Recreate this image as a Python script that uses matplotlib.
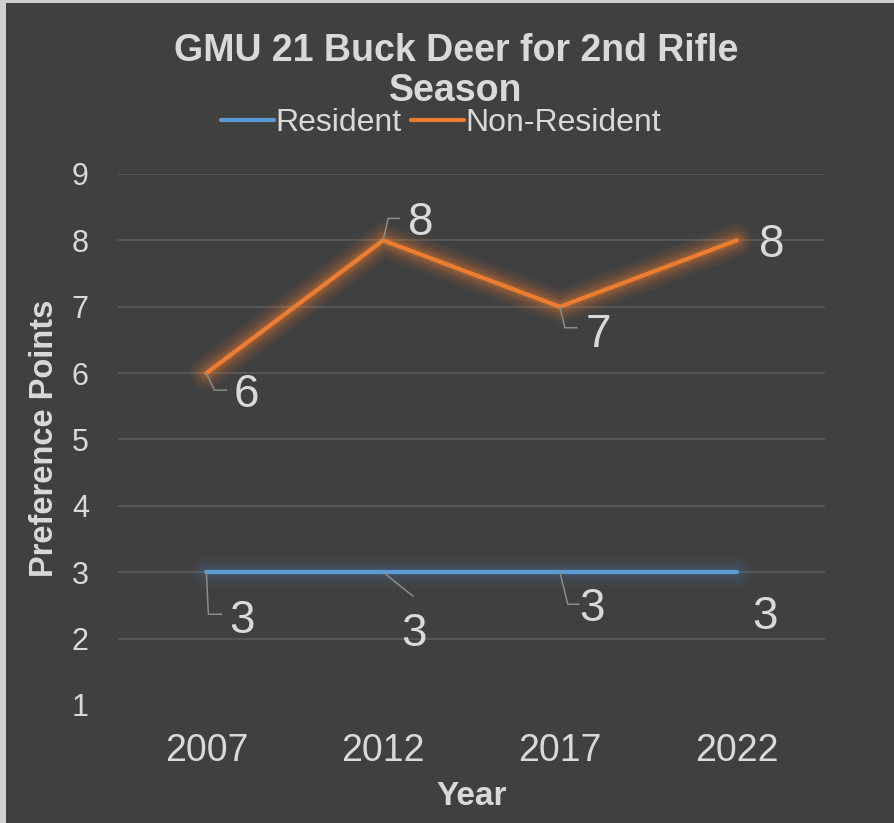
import matplotlib
matplotlib.use("Agg")
import matplotlib.pyplot as plt
import matplotlib.patheffects as pe
import matplotlib.transforms as mtransforms
from matplotlib.patches import Rectangle

# ---------------- data ----------------
years = ["2007", "2012", "2017", "2022"]
resident = [3, 3, 3, 3]
non_resident = [6, 8, 7, 8]
y_ticks = [1, 2, 3, 4, 5, 6, 7, 8, 9]
title = "GMU 21 Buck Deer for 2nd Rifle\nSeason"
x_label = "Year"
y_label = "Preference Points"
series_names = ["Resident", "Non-Resident"]

# ---------------- style ----------------
BG = "#404040"
TXT = "#D9D9D9"
GRID = "#595959"
BLUE = "#5B9BD5"
ORANGE = "#ED7D31"
LEADER = "#8C8C8C"
FONT = ["Liberation Sans", "DejaVu Sans"]
plt.rcParams["font.family"] = FONT

W, H = 894, 823
fig = plt.figure(figsize=(W / 100, H / 100), dpi=100, facecolor=BG)

# light frame at left / top edge
fig.patches.append(Rectangle((0, 0), 6 / W, 1, transform=fig.transFigure,
                             facecolor="#D0D0D0", edgecolor="none", zorder=0))
fig.patches.append(Rectangle((0, 1 - 3 / H), 1, 3 / H, transform=fig.transFigure,
                             facecolor="#D0D0D0", edgecolor="none", zorder=0))

left, right, top, bottom = 118, 825, 174, 705
ax = fig.add_axes([left / W, 1 - bottom / H, (right - left) / W, (bottom - top) / H])
ax.set_facecolor(BG)

x = list(range(len(years)))


def glow(color, k=1.0):
    effects = []
    for w, a in [(24, 0.05), (19, 0.07), (14, 0.09), (10, 0.12), (6, 0.16)]:
        effects.append(pe.Stroke(linewidth=w, foreground=color, alpha=a * k))
    effects.append(pe.Normal())
    return effects


l_res, = ax.plot(x, resident, color=BLUE, lw=3, solid_capstyle="round",
                 solid_joinstyle="miter", zorder=3)
l_res.set_path_effects(glow("#4a6f96"))
l_non, = ax.plot(x, non_resident, color=ORANGE, lw=3, solid_capstyle="round",
                 solid_joinstyle="miter", zorder=3)
l_non.set_path_effects(glow(ORANGE, 1.2))

ax.set_xlim(-0.5, len(years) - 0.5)
ax.set_ylim(y_ticks[0], y_ticks[-1])
ax.set_xticks(x)
ax.set_xticklabels(years)
ax.set_yticks(y_ticks)
ax.set_yticklabels([str(t) for t in y_ticks])
ax.tick_params(axis="x", length=0, pad=20, labelsize=27, labelcolor=TXT)
ax.tick_params(axis="y", length=0, pad=21, labelsize=22, labelcolor=TXT)
for s in ax.spines.values():
    s.set_visible(False)
ax.yaxis.grid(True, color=GRID, lw=1.3, zorder=0)
ax.set_axisbelow(True)
fig.canvas.draw()
ax.yaxis.get_gridlines()[0].set_visible(False)

# data labels: offsets (px) of the label baseline centre from the point
lab_off_non = [(40, -34), (38, 5), (38, -40), (35, -17)]
lab_off_res = [(36, -61), (31, -74), (32, -49), (28, -57)]
# leader lines (px relative to point, y up)
lead_non = [[(0, 0), (8, -17), (20, -17)], [(0, 0), (5, 22), (16, 22)],
            [(0, 0), (5, -21), (17, -21)], None]
lead_res = [[(0, 0), (2, -42), (15, -42)], [(0, 0), (30, -24)],
            [(0, 0), (8, -32), (19, -32)], None]


def labels(vals, offs, leads):
    for i, v in enumerate(vals):
        dx, dy = offs[i]
        ax.annotate(str(v), xy=(i, v), xytext=(dx * 0.72, dy * 0.72),
                    textcoords="offset points", ha="center", va="baseline",
                    fontsize=33, color=TXT, zorder=5)
        if leads[i] is not None:
            tr = fig.dpi_scale_trans + mtransforms.ScaledTranslation(i, v, ax.transData)
            xs = [p[0] / 100 for p in leads[i]]
            ys = [p[1] / 100 for p in leads[i]]
            ax.plot(xs, ys, transform=tr, color=LEADER, lw=1.1, zorder=4,
                    clip_on=False)


labels(non_resident, lab_off_non, lead_non)
labels(resident, lab_off_res, lead_res)

# axis titles
fig.text((left + right) / 2 / W, 1 - 805 / H, x_label, ha="center", va="baseline",
         fontsize=24, fontweight="bold", color=TXT)
fig.text(45 / W, 1 - 438 / H, y_label, ha="center", va="center", rotation=90,
         fontsize=23.5, fontweight="bold", color=TXT)

# title
fig.text(456 / W, 1 - 101 / H, title, ha="center", va="baseline", fontsize=27,
         fontweight="bold", color=TXT, linespacing=1.15,
         multialignment="center")

# legend
leg = fig.legend([l_res, l_non], series_names, loc="center",
                 bbox_to_anchor=(441 / W, 1 - 123 / H), ncol=2, frameon=False,
                 fontsize=23, handlelength=1.65, handletextpad=0.05,
                 columnspacing=0.3, borderpad=0, labelcolor=TXT)
for h in leg.legend_handles:
    h.set_path_effects([])
    h.set_linewidth(3)

fig.savefig("out.png", dpi=100, facecolor=BG)
